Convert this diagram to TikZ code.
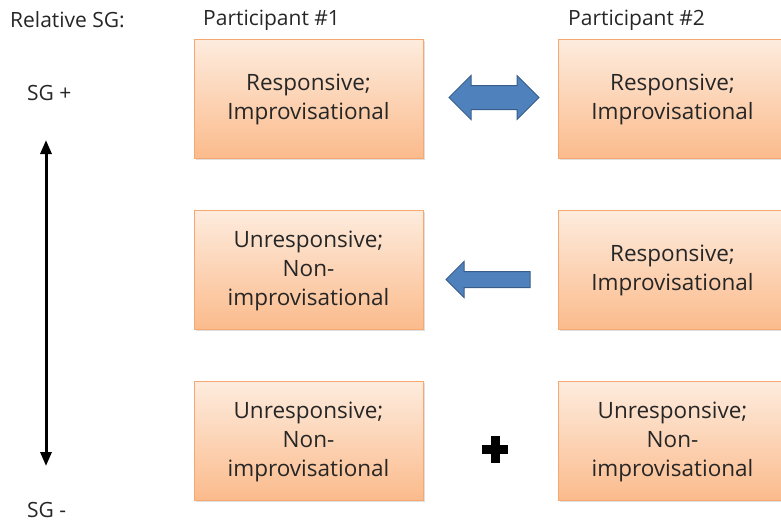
\documentclass[tikz,border=0pt]{standalone}
\usepackage{fontspec}
\setmainfont{Open Sans}
\usetikzlibrary{arrows.meta,shapes.arrows,shadows}
\definecolor{boxtop}{RGB}{253,236,222}
\definecolor{boxbot}{RGB}{251,187,140}
\definecolor{boxline}{RGB}{247,168,112}
\definecolor{arrfill}{RGB}{79,129,189}
\definecolor{arrline}{RGB}{56,93,138}
\definecolor{txt}{RGB}{38,38,38}
\tikzset{
  partbox/.style={draw=boxline, line width=0.8pt, top color=boxtop, bottom color=boxbot,
    minimum width=229pt, minimum height=119pt, align=center, text=txt,
    font=\fontsize{22.5}{29}\selectfont, text depth=3pt,
    drop shadow={shadow xshift=1.5pt, shadow yshift=-1.5pt, opacity=0.25}},
  lbl/.style={text=txt, font=\fontsize{21}{25}\selectfont, inner sep=0pt},
  blockarrow/.style={draw=arrline, fill=arrfill, line width=1pt, inner xsep=0pt}
}
\begin{document}
\begin{tikzpicture}[x=1pt,y=-1pt]
\clip (0,0) rectangle (781,523);
% headings
\node[lbl,anchor=west] (rel) at (10,20) {Relative SG:};
\node[lbl,anchor=west] (p1) at (203,20) {Participant \#1};
\node[lbl,anchor=west] (p2) at (568,20) {Participant \#2};
\node[lbl,anchor=west] (sgp) at (27,93) {SG +};
\node[lbl,anchor=west] (sgm) at (27,510) {SG -};
% scale of the relative SG
\coordinate (up) at (46,140);
\coordinate (down) at (46,466);
\draw[line width=3pt, {Triangle[width=11pt,length=14pt]}-{Triangle[width=11pt,length=14pt]}] (up) -- (down);
% the boxes, one row per case
\node[partbox] (a1) at (308.5,98.5) {Responsive;\\Improvisational};
\node[partbox] (a2) at (672.5,98.5) {Responsive;\\Improvisational};
\node[partbox] (b1) at (308.5,269.5) {Unresponsive;\\Non-\\improvisational};
\node[partbox] (b2) at (672.5,269.5) {Responsive;\\Improvisational};
\node[partbox] (c1) at (308.5,440.5) {Unresponsive;\\Non-\\improvisational};
\node[partbox] (c2) at (672.5,440.5) {Unresponsive;\\Non-\\improvisational};
% block arrows between them
\node[blockarrow, double arrow, inner ysep=11.5pt, minimum height=90pt,
  double arrow head extend=10pt] (ab) at (494,97.5) {};
\node[blockarrow, single arrow, shape border rotate=180, inner ysep=7.5pt,
  minimum height=84pt, single arrow head extend=10pt] (bb) at (492,279.5) {};
% plus sign
\fill (482,445) rectangle (508,454);
\fill (490.5,436) rectangle (499.5,463);
\end{tikzpicture}
\end{document}
